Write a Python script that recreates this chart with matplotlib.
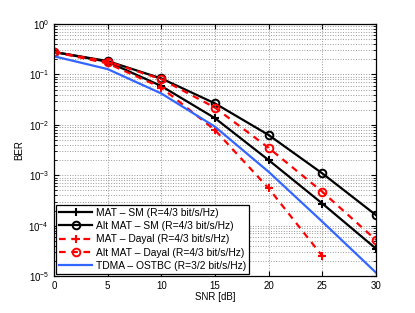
import matplotlib
matplotlib.use("Agg")
import matplotlib.pyplot as plt
from matplotlib.ticker import LogLocator, NullFormatter

snr = [0, 5, 10, 15, 20, 25, 30]
snr_dayal = [0, 5, 10, 15, 20, 25]

mat_sm = [0.28, 0.179, 0.059, 0.0136, 0.0020, 2.75e-4, 3.5e-5]
alt_mat_sm = [0.28, 0.185, 0.0835, 0.0267, 0.0063, 1.09e-3, 1.62e-4]
mat_dayal = [0.28, 0.166, 0.055, 0.0079, 5.5e-4, 2.5e-5]
alt_mat_dayal = [0.28, 0.18, 0.081, 0.022, 0.0035, 4.7e-4, 5.2e-5]
tdma = [0.23, 0.128, 0.042, 0.0092, 1.17e-3, 1.2e-4, 1.17e-5]

labels = ["MAT \u2013 SM (R=4/3 bit/s/Hz)",
          "Alt MAT \u2013 SM (R=4/3 bit/s/Hz)",
          "MAT \u2013 Dayal (R=4/3 bit/s/Hz)",
          "Alt MAT \u2013 Dayal (R=4/3 bit/s/Hz)",
          "TDMA \u2013 OSTBC (R=3/2 bit/s/Hz)"]

plt.rcParams['font.family'] = 'Liberation Sans'
fig = plt.figure(figsize=(4.15, 3.13), dpi=100)
ax = fig.add_axes([0.130, 0.118, 0.776, 0.805])

ax.semilogy(snr, mat_sm, 'k-', marker='+', ms=6, mew=1.5, lw=1.6, label=labels[0])
ax.semilogy(snr, alt_mat_sm, 'k-', marker='o', ms=5.5, mfc='none', mew=1.4, lw=1.6, label=labels[1])
ax.semilogy(snr_dayal, mat_dayal, color='r', ls=(0, (3, 2.5)), marker='+', ms=6, mew=1.5,
            lw=1.6, label=labels[2])
ax.semilogy(snr, alt_mat_dayal, color='r', ls=(0, (3, 2.5)), marker='o', ms=5.5, mfc='none',
            mew=1.4, lw=1.6, label=labels[3])
ax.semilogy(snr, tdma, color='#3366ff', lw=1.6, label=labels[4])

ax.set_xlim(0, 30)
ax.set_ylim(1e-5, 1)
ax.set_xticks([0, 5, 10, 15, 20, 25, 30])
ax.yaxis.set_major_locator(LogLocator(base=10, numticks=10))
ax.yaxis.set_minor_locator(LogLocator(base=10, subs=range(2, 10), numticks=20))
ax.yaxis.set_minor_formatter(NullFormatter())
ax.grid(True, which='major', ls=':', color='#999999', lw=0.7)
ax.grid(True, which='minor', axis='y', ls=':', color='#999999', lw=0.7)
ax.tick_params(labelsize=7, direction='in', which='both', top=True, right=True)
for s in ax.spines.values():
    s.set_linewidth(0.9)

ax.set_xlabel('SNR [dB]', fontsize=7, labelpad=1)
ax.set_ylabel('BER', fontsize=7, labelpad=3)

leg = ax.legend(loc='lower left', fontsize=7.4, handlelength=3.2, borderaxespad=0.2,
                fancybox=False, framealpha=1, labelspacing=0.32, borderpad=0.3,
                handletextpad=0.4)
leg.get_frame().set_edgecolor('black')
leg.get_frame().set_linewidth(0.9)

fig.savefig('out.png', dpi=100)
